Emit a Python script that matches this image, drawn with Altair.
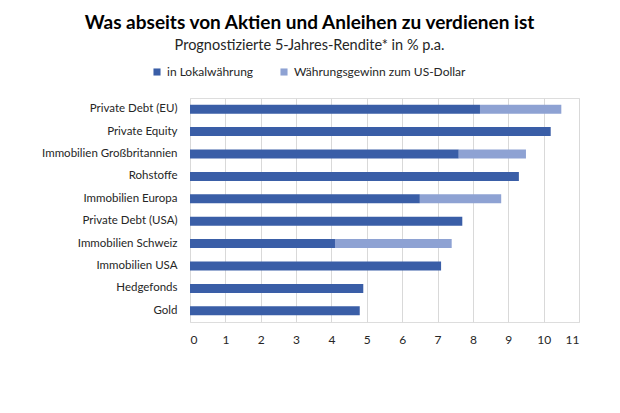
import altair as alt
import pandas as pd

categories = ["Private Debt (EU)", "Private Equity", "Immobilien Großbritannien", "Rohstoffe",
              "Immobilien Europa", "Private Debt (USA)", "Immobilien Schweiz", "Immobilien USA",
              "Hedgefonds", "Gold"]
local = [8.2, 10.2, 7.6, 9.3, 6.5, 7.7, 4.1, 7.1, 4.9, 4.8]
fx_gain = [2.3, 0.0, 1.9, 0.0, 2.3, 0.0, 3.3, 0.0, 0.0, 0.0]
series = ["in Lokalwährung", "Währungsgewinn zum US-Dollar"]
colors = ["#3A5EA7", "#8EA2D3"]
x_ticks = list(range(0, 12))

rows = []
for c, a, b in zip(categories, local, fx_gain):
    rows.append({"Kategorie": c, "Serie": series[0], "Wert": a, "o": 0})
    rows.append({"Kategorie": c, "Serie": series[1], "Wert": b, "o": 1})
df = pd.DataFrame(rows)

FONT = "Lato"

chart = alt.Chart(df).mark_bar(size=9).encode(
    x=alt.X("Wert:Q", stack="zero",
            scale=alt.Scale(domain=[0, 11], nice=False),
            axis=alt.Axis(values=x_ticks, title=None, grid=True, gridColor="#d9d9d9",
                          domain=False, ticks=False, labelPadding=12, labelFontSize=12,
                          labelColor="#262626", labelFont=FONT)),
    y=alt.Y("Kategorie:N", sort=categories,
            axis=alt.Axis(title=None, domain=False, ticks=False, labelPadding=13,
                          labelFontSize=11.5, labelColor="#262626", labelFont=FONT)),
    color=alt.Color("Serie:N", scale=alt.Scale(domain=series, range=colors),
                    legend=alt.Legend(title=None, orient="none", direction="horizontal",
                                      legendX=-39, legendY=-32, symbolType="square",
                                      symbolSize=50, labelFontSize=12, labelFont=FONT,
                                      labelColor="#262626", columnPadding=24,
                                      labelLimit=400, symbolStrokeWidth=0)),
    order=alt.Order("o:Q"),
).properties(
    width=389, height=224,
    title=alt.TitleParams(
        "Was abseits von Aktien und Anleihen zu verdienen ist",
        subtitle="Prognostizierte 5-Jahres-Rendite* in % p.a.",
        anchor="middle", frame="group", dx=-75, offset=14,
        fontSize=19, font=FONT, fontWeight="bold", color="#000000",
        subtitleFontSize=14.5, subtitleFont=FONT, subtitleColor="#262626",
        subtitlePadding=6),
    autosize=alt.AutoSizeParams(type="none"),
    padding={"left": 182, "top": 90, "right": 33, "bottom": 75},
).configure_view(stroke=None).configure(background="white")

chart.save("out.html", embed_options={"renderer": "svg", "actions": False})
